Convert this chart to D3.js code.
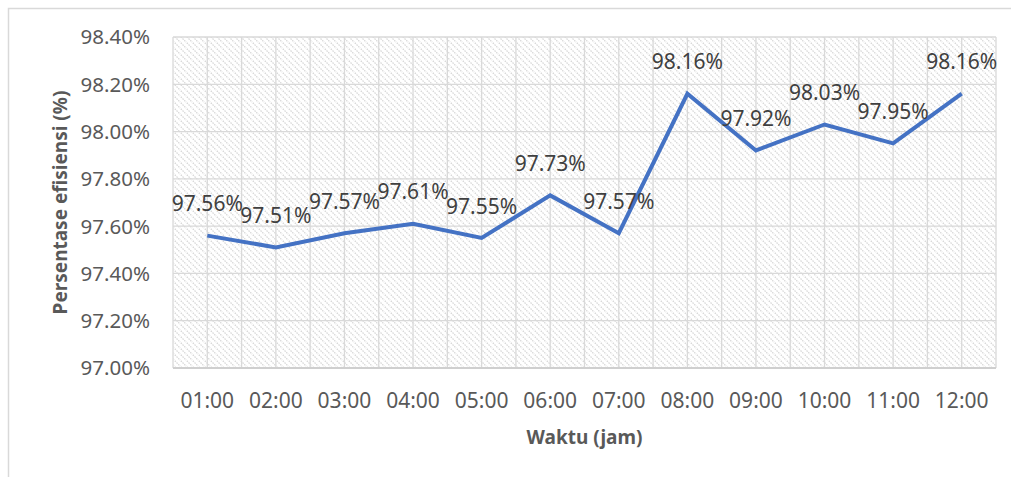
<!DOCTYPE html>
<html>
<head>
<meta charset="utf-8">
<script src="https://cdn.jsdelivr.net/npm/d3@7"></script>
<style>
  body { margin: 0; background: #fff; }
  text { font-family: "Noto Sans", sans-serif; }
</style>
</head>
<body>
<div id="chart"></div>
<script>
// chart data
const hours = ["01:00", "02:00", "03:00", "04:00", "05:00", "06:00",
               "07:00", "08:00", "09:00", "10:00", "11:00", "12:00"];
const efficiency = [97.56, 97.51, 97.57, 97.61, 97.55, 97.73,
                    97.57, 98.16, 97.92, 98.03, 97.95, 98.16];
const yTicks = [97.0, 97.2, 97.4, 97.6, 97.8, 98.0, 98.2, 98.4];

const WIDTH = 1011, HEIGHT = 477;
const margin = { top: 37, right: 15, bottom: 109, left: 173 };

const svg = d3.select("#chart")
    .append("svg")
    .attr("width", WIDTH)
    .attr("height", HEIGHT);

// diagonal hatch for the plot background
const defs = svg.append("defs");
const pat = defs.append("pattern")
    .attr("id", "hatch")
    .attr("patternUnits", "userSpaceOnUse")
    .attr("width", 6)
    .attr("height", 6);
pat.append("path")
    .attr("d", "M-1,-1 L7,7 M-1,5 L1,7 M5,-1 L7,1")
    .attr("stroke", "#d6d6d6")
    .attr("stroke-width", 1.3)
    .attr("stroke-dasharray", "1.5,1");

// outer chart border
svg.append("rect")
    .attr("x", 8.5).attr("y", 8.5)
    .attr("width", 1010).attr("height", 480)
    .attr("fill", "none")
    .attr("stroke", "#d9d9d9")
    .attr("stroke-width", 1.5);

const x = d3.scaleBand()
    .domain(hours)
    .range([margin.left, WIDTH - margin.right]);

const y = d3.scaleLinear()
    .domain([97.0, 98.4])
    .range([HEIGHT - margin.bottom, margin.top]);

const plotW = WIDTH - margin.right - margin.left;
const plotH = HEIGHT - margin.bottom - margin.top;

svg.append("rect")
    .attr("x", margin.left).attr("y", margin.top)
    .attr("width", plotW).attr("height", plotH)
    .attr("fill", "url(#hatch)");

// vertical gridlines: category edges and centres
const vLines = [];
hours.forEach(h => {
    vLines.push(x(h));
    vLines.push(x(h) + x.bandwidth() / 2);
});
vLines.push(WIDTH - margin.right);

svg.append("g")
    .selectAll("line")
    .data(vLines)
    .enter()
    .append("line")
    .attr("x1", d => d).attr("x2", d => d)
    .attr("y1", margin.top).attr("y2", HEIGHT - margin.bottom)
    .attr("stroke", "#d9d9d9")
    .attr("stroke-width", 1.3);

// horizontal gridlines
svg.append("g")
    .selectAll("line")
    .data(yTicks)
    .enter()
    .append("line")
    .attr("x1", margin.left).attr("x2", WIDTH - margin.right)
    .attr("y1", d => y(d)).attr("y2", d => y(d))
    .attr("stroke", d => d === 97.0 ? "#cfcfcf" : "#d9d9d9")
    .attr("stroke-width", d => d === 97.0 ? 1.8 : 1.3);

// y tick labels
svg.append("g")
    .selectAll("text")
    .data(yTicks)
    .enter()
    .append("text")
    .attr("x", 150)
    .attr("y", d => y(d))
    .attr("dy", "0.36em")
    .attr("text-anchor", "end")
    .attr("fill", "#595959")
    .style("font-size", "20.5px")
    .text(d => d.toFixed(2) + "%");

// x tick labels
svg.append("g")
    .selectAll("text")
    .data(hours)
    .enter()
    .append("text")
    .attr("x", d => x(d) + x.bandwidth() / 2)
    .attr("y", 400)
    .attr("dy", "0.36em")
    .attr("text-anchor", "middle")
    .attr("fill", "#595959")
    .style("font-size", "21px")
    .text(d => d);

// axis titles
svg.append("text")
    .attr("x", margin.left + plotW / 2)
    .attr("y", 437)
    .attr("dy", "0.36em")
    .attr("text-anchor", "middle")
    .attr("fill", "#595959")
    .style("font-size", "19px")
    .style("font-weight", "bold")
    .text("Waktu (jam)");

svg.append("text")
    .attr("transform", `translate(60,${margin.top + plotH / 2}) rotate(-90)`)
    .attr("dy", "0.36em")
    .attr("text-anchor", "middle")
    .attr("fill", "#595959")
    .style("font-size", "19px")
    .style("font-weight", "bold")
    .text("Persentase efisiensi (%)");

// the line
const line = d3.line()
    .x((d, i) => x(hours[i]) + x.bandwidth() / 2)
    .y(d => y(d));

svg.append("path")
    .datum(efficiency)
    .attr("d", line)
    .attr("fill", "none")
    .attr("stroke", "#4472c4")
    .attr("stroke-width", 4)
    .attr("stroke-linejoin", "miter");

// data labels above points
svg.append("g")
    .selectAll("text")
    .data(efficiency)
    .enter()
    .append("text")
    .attr("x", (d, i) => x(hours[i]) + x.bandwidth() / 2)
    .attr("y", d => y(d) - 32)
    .attr("dy", "0.36em")
    .attr("text-anchor", "middle")
    .attr("fill", "#404040")
    .style("font-size", "21px")
    .text(d => d.toFixed(2) + "%");
</script>
</body>
</html>
